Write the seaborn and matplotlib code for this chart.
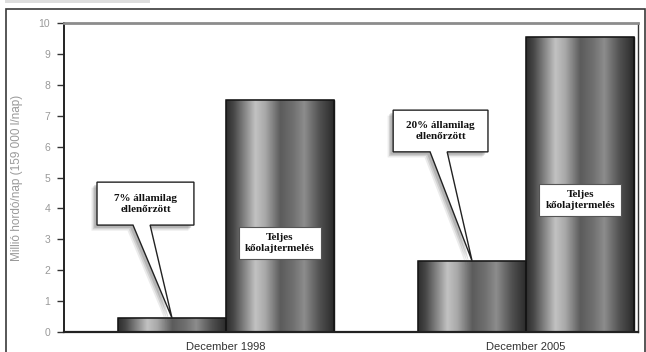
import numpy as np
import pandas as pd
import matplotlib
matplotlib.use("Agg")
import matplotlib.pyplot as plt
import matplotlib.transforms as mtransforms
from matplotlib.patches import Polygon, Rectangle
import seaborn as sns

# --- data -------------------------------------------------------------
periods = ["December 1998", "December 2005"]
series = ["Államilag ellenőrzött", "Teljes kőolajtermelés"]
state_controlled = [0.45, 2.3]     # million barrels / day
total_output = [7.5, 9.55]         # million barrels / day
share_labels = ["7% államilag\nellenőrzött", "20% államilag\nellenőrzött"]
total_label = "Teljes\nkőolajtermelés"
y_ticks = list(range(0, 11))
y_label = "Millió hordó/nap (159 000 l/nap)"

df = pd.DataFrame({
    "period": periods * 2,
    "series": [series[0]] * len(periods) + [series[1]] * len(periods),
    "value": state_controlled + total_output,
})

# --- style ------------------------------------------------------------
sns.set_theme(style="white")
plt.rcParams["font.family"] = ["Liberation Sans", "DejaVu Sans"]
SERIF = ["Liberation Serif", "DejaVu Serif"]

W, H = 646, 352
fig = plt.figure(figsize=(W / 100, H / 100), dpi=100)
fig.patch.set_facecolor("white")
ax = fig.add_axes([64 / W, 20 / H, (638 - 64) / W, (332 - 23) / H])

sns.barplot(data=df, x="period", y="value", hue="series",
            order=periods, hue_order=series, width=0.72, gap=0,
            palette=["#666666", "#666666"], saturation=1,
            edgecolor="#1a1a1a", linewidth=1.0, legend=False, ax=ax)

ax.set_xlim(-0.54, 1.373)
ax.set_ylim(0, 10)
xlim, ylim = ax.get_xlim(), ax.get_ylim()

# metallic cylinder shading for every bar
stops = [0.0, 0.07, 0.27, 0.36, 0.5, 0.62, 0.72, 0.86, 1.0]
vals = [0.18, 0.28, 0.76, 0.66, 0.36, 0.44, 0.55, 0.32, 0.16]
profile = np.interp(np.linspace(0, 1, 256), stops, vals)
grad = np.tile(profile, (2, 1))

bars = [p for p in ax.patches if p.get_height() > 0]
for p in bars:
    x0, w, h = p.get_x(), p.get_width(), p.get_height()
    im = ax.imshow(grad, cmap="gray", vmin=0, vmax=1, aspect="auto",
                   extent=[x0, x0 + w, 0, h], zorder=p.get_zorder() + 0.1,
                   interpolation="bilinear")
    im.set_clip_path(p)
    ax.add_patch(Rectangle((x0, 0), w, h, fill=False, ec="#141414", lw=1.1,
                           zorder=p.get_zorder() + 0.2))
ax.set_xlim(xlim)
ax.set_ylim(ylim)

# bars sorted by position: small/large per period
bars_sorted = sorted(bars, key=lambda b: b.get_x())
small_bars = [bars_sorted[0], bars_sorted[2]]
big_bars = [bars_sorted[1], bars_sorted[3]]


def callout(box, tail, bar, text):
    x0, y0, x1, y1 = box
    tipx = bar.get_x() + bar.get_width() / 2
    tipy = bar.get_height()
    verts = [(x0, y1), (x1, y1), (x1, y0), (tail[1], y0), (tipx, tipy),
             (tail[0], y0), (x0, y0)]
    # soft drop shadow
    for dx, dy, a in [(-4, -4, 0.10), (-3, -3, 0.15), (-2, -2, 0.2)]:
        tr = mtransforms.offset_copy(ax.transData, fig=fig, x=dx, y=dy, units="points")
        ax.add_patch(Polygon(verts, closed=True, fc="#404040", ec="none",
                             alpha=a, transform=tr, zorder=5))
    ax.add_patch(Polygon(verts, closed=True, fc="white", ec="#222222",
                         lw=1.0, zorder=6))
    ax.text((x0 + x1) / 2, (y0 + y1) / 2, text, ha="center", va="center",
            fontsize=8, fontweight="bold", family=SERIF, color="#111111",
            linespacing=1.3, zorder=7)


callout((-0.43, 3.46, -0.107, 4.85), (-0.31, -0.253), small_bars[0], share_labels[0])
callout((0.557, 5.83, 0.873, 7.18), (0.68, 0.737), small_bars[1], share_labels[1])

for bar, yc in zip(big_bars, [2.88, 4.27]):
    ax.text(bar.get_x() + bar.get_width() / 2, yc, total_label,
            ha="center", va="center", fontsize=8, fontweight="bold",
            family=SERIF, color="#111111", linespacing=1.35, zorder=7,
            bbox=dict(boxstyle="square,pad=0.55", fc="white", ec="#555555", lw=0.8))

# --- axes -------------------------------------------------------------
ax.set_yticks(y_ticks)
ax.tick_params(axis="y", left=True, length=5, width=1, color="#333333",
               labelsize=7.5, labelcolor="#999999", pad=5)
ax.tick_params(axis="x", bottom=False, labelsize=8, labelcolor="#333333", pad=1)
ax.set_xlabel("")
ax.set_ylabel(y_label, fontsize=8.5, color="#999999", labelpad=11)
ax.spines["left"].set_color("#222222")
ax.spines["left"].set_linewidth(1.4)
ax.spines["bottom"].set_color("#222222")
ax.spines["bottom"].set_linewidth(1.6)
ax.spines["top"].set_color("#8c8c8c")
ax.spines["top"].set_linewidth(2.0)
ax.spines["right"].set_color("#333333")
ax.spines["right"].set_linewidth(1.0)

# outer frame and header strip
fig.add_artist(Rectangle((6 / W, -0.05), (645 - 6) / W, 1 - 9 / H + 0.05,
                         transform=fig.transFigure, fill=False, ec="#3a3a3a", lw=1.2))
fig.add_artist(Rectangle((5 / W, 1 - 3 / H), 145 / W, 3 / H,
                         transform=fig.transFigure, fc="#dddddd", ec="none"))

fig.savefig("out.png", dpi=100)
